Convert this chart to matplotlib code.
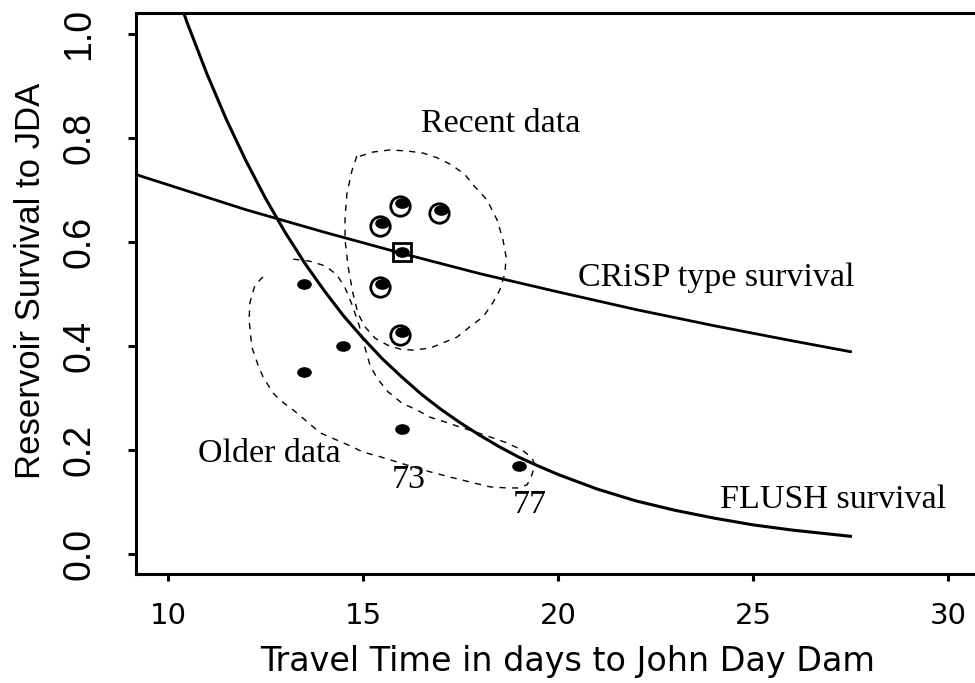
import numpy as np
import matplotlib.pyplot as plt
from matplotlib.path import Path
from matplotlib.transforms import Affine2D, ScaledTranslation

#travel time (days) vs reservoir survival
flush_x = [10.2, 10.5, 11.0, 11.5, 12.0, 12.5, 13.0, 13.5, 14.0, 14.5, 15.0, 15.5,
           16.0, 16.5, 17.0, 17.5, 18.0, 18.5, 19.0, 19.5, 20, 21, 22, 23, 24, 25,
           26, 27, 27.5]
flush_y = [1.083, 1.020, 0.923, 0.835, 0.756, 0.684, 0.619, 0.560, 0.507, 0.458,
           0.415, 0.375, 0.340, 0.307, 0.278, 0.252, 0.228, 0.206, 0.186, 0.169,
           0.153, 0.125, 0.102, 0.084, 0.069, 0.056, 0.046, 0.038, 0.034]

crisp_x = [9.0, 10, 12, 14, 16, 18, 20, 22, 24, 26, 27.5]
crisp_y = [0.734, 0.710, 0.662, 0.619, 0.578, 0.539, 0.504, 0.470, 0.439, 0.410, 0.389]

older_x = [13.5, 14.5, 13.5, 16.0, 19.0]
older_y = [0.52, 0.40, 0.35, 0.24, 0.17]

recent_x = [16.0, 17.0, 15.5, 15.5, 16.0]
recent_y = [0.675, 0.662, 0.637, 0.52, 0.427]

boxed_x = [16.0]
boxed_y = [0.58]

#hand drawn outlines round the two groups
older_loop_x = [13.21, 13.64, 14.03, 14.33, 14.54, 14.72, 14.90, 15.03, 15.18, 15.36,
                15.64, 16.00, 16.38, 16.72, 17.10, 17.49, 17.87, 18.26, 18.64, 19.08,
                19.33, 19.41, 19.33, 19.21, 18.97, 18.69, 18.26, 17.82, 17.23, 16.72,
                16.21, 15.87, 15.44, 15.00, 14.67, 14.33, 13.90, 13.51, 13.21, 12.87,
                12.69, 12.44, 12.31, 12.15, 12.08, 12.10, 12.23, 12.41, 12.56]
older_loop_y = [0.567, 0.563, 0.554, 0.537, 0.512, 0.479, 0.440, 0.402, 0.363, 0.338,
                0.312, 0.290, 0.277, 0.263, 0.254, 0.244, 0.235, 0.225, 0.215, 0.200,
                0.185, 0.171, 0.152, 0.133, 0.127, 0.127, 0.129, 0.137, 0.148, 0.158,
                0.169, 0.177, 0.187, 0.196, 0.208, 0.219, 0.233, 0.258, 0.277, 0.296,
                0.310, 0.340, 0.363, 0.398, 0.450, 0.483, 0.517, 0.531, 0.537]

recent_loop_x = [14.92, 15.26, 15.69, 16.13, 16.54, 16.90, 17.28, 17.62, 17.87, 18.18,
                 18.44, 18.59, 18.67, 18.64, 18.51, 18.33, 18.08, 17.74, 17.41, 17.05,
                 16.72, 16.28, 15.95, 15.62, 15.31, 15.05, 14.87, 14.74, 14.62, 14.54,
                 14.54, 14.59, 14.72, 14.85]
recent_loop_y = [0.765, 0.773, 0.777, 0.775, 0.771, 0.762, 0.748, 0.729, 0.706, 0.681,
                 0.642, 0.604, 0.571, 0.540, 0.508, 0.483, 0.456, 0.437, 0.417, 0.406,
                 0.396, 0.392, 0.394, 0.402, 0.415, 0.437, 0.463, 0.502, 0.552, 0.604,
                 0.648, 0.694, 0.738, 0.767]

x_ticks = [10, 15, 20, 25, 30]
y_ticks = [0.0, 0.2, 0.4, 0.6, 0.8, 1.0]
y_tick_labels = ["0.0", "0.2", "0.4", "0.6", "0.8", "1.0"]

serif = "Liberation Serif"
sans = "Liberation Sans"

fig = plt.figure(figsize=(9.75, 6.83), dpi=100)
ax = fig.add_axes([0.1395, 0.1596, 0.8808, 0.8214])
ax.set_xlim(9.18, 31.2)
ax.set_ylim(-0.0385, 1.0404)

ax.plot(flush_x, flush_y, color="black", linewidth=2.2)
ax.plot(crisp_x, crisp_y, color="black", linewidth=2.0)

ax.plot(older_loop_x, older_loop_y, color="black", linewidth=1.0, dashes=(4.5, 4.5))
ax.plot(recent_loop_x, recent_loop_y, color="black", linewidth=1.0, dashes=(4.5, 4.5))

#small flat dots like the R output
dot = Path.unit_circle().transformed(Affine2D().scale(1.0, 0.7))
ax.plot(older_x, older_y, linestyle="none", marker=dot, markersize=9.5, color="black")
ax.plot(recent_x, recent_y, linestyle="none", marker=dot, markersize=9.5, color="black")
ax.plot(boxed_x, boxed_y, linestyle="none", marker=dot, markersize=9.5, color="black")

shift = ax.transData + ScaledTranslation(-0.02, -0.03, fig.dpi_scale_trans)
ax.plot(recent_x, recent_y, linestyle="none", marker="o", markersize=14,
        markerfacecolor="none", markeredgecolor="black", markeredgewidth=2.0,
        transform=shift)
ax.plot(boxed_x, boxed_y, linestyle="none", marker="s", markersize=13.5,
        markerfacecolor="none", markeredgecolor="black", markeredgewidth=2.0)

ax.text(16.49, 0.812, "Recent data", fontsize=24.5, family=serif)
ax.text(20.51, 0.515, "CRiSP type survival", fontsize=24.5, family=serif)
ax.text(24.15, 0.088, "FLUSH survival", fontsize=24.5, family=serif)
ax.text(10.77, 0.177, "Older data", fontsize=24.5, family=serif)
ax.text(15.74, 0.127, "73", fontsize=24.5, family=serif)
ax.text(18.85, 0.079, "77", fontsize=24.5, family=serif)

for sp in ax.spines.values():
    sp.set_linewidth(2.2)

ax.set_xticks(x_ticks)
ax.set_xticklabels([str(t) for t in x_ticks], fontsize=21, family="DejaVu Sans")
ax.set_yticks(y_ticks)
ax.set_yticklabels(y_tick_labels, rotation=90, va="center", fontsize=27, family=sans)
ax.tick_params(axis="x", direction="out", length=5, width=2.2, pad=15)
ax.tick_params(axis="y", direction="out", length=6, width=2.2, pad=22)

ax.set_xlabel("Travel Time in days to John Day Dam", fontsize=24, family="DejaVu Sans")
ax.xaxis.set_label_coords(0.503, -0.1266)
ax.set_ylabel("Reservoir Survival to JDA", fontsize=25, family=sans)
ax.yaxis.set_label_coords(-0.104, 0.522)

fig.savefig("out.png", dpi=100)
